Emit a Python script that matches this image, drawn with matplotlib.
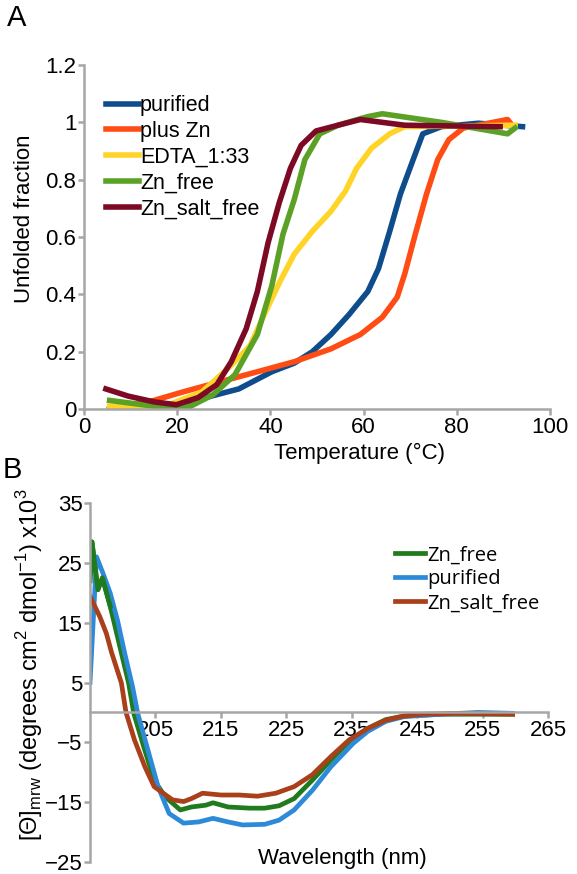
import numpy as np
import matplotlib
matplotlib.use("Agg")
import matplotlib.pyplot as plt

plt.rcParams['font.family'] = ['Liberation Sans', 'DejaVu Sans']

# ---------------- panel A : thermal unfolding ----------------
purified_T = [5.5, 19.8, 26.1, 33.2, 40.3, 45.1, 49.0, 53.0, 56.9, 60.9, 63.2, 65.6, 67.9, 70.4, 72.7, 76.7, 84.6, 94.1]
purified_f = [0.0, 0.01, 0.04, 0.07, 0.13, 0.16, 0.20, 0.26, 0.33, 0.41, 0.49, 0.62, 0.75, 0.86, 0.96, 0.985, 0.997, 0.985]

pluszn_T = [5.5, 15.0, 21.3, 29.2, 37.2, 45.1, 53.0, 59.3, 64.0, 67.2, 68.8, 71.1, 73.5, 75.9, 78.3, 81.4, 90.9, 92.1]
pluszn_f = [0.0, 0.03, 0.06, 0.095, 0.13, 0.165, 0.21, 0.26, 0.32, 0.39, 0.47, 0.61, 0.75, 0.87, 0.94, 0.98, 1.01, 0.985]

edta_T = [5.5, 17.4, 25.3, 30.8, 35.6, 38.7, 41.9, 45.1, 49.0, 53.0, 56.1, 58.5, 61.7, 65.6, 68.8, 92.5]
edta_f = [0.01, 0.01, 0.06, 0.14, 0.22, 0.33, 0.44, 0.54, 0.62, 0.69, 0.76, 0.84, 0.91, 0.96, 0.985, 0.99]

znfree_T = [5.5, 17.4, 22.9, 27.7, 32.4, 37.2, 40.3, 42.7, 45.1, 47.4, 50.6, 54.5, 60.9, 64.0, 76.7, 90.9, 92.5]
znfree_f = [0.03, 0.005, 0.01, 0.05, 0.12, 0.26, 0.43, 0.61, 0.73, 0.87, 0.96, 0.99, 1.02, 1.03, 1.0, 0.96, 0.98]

saltfree_T = [4.7, 9.5, 15.0, 19.8, 24.5, 28.5, 31.6, 34.8, 37.2, 39.5, 41.9, 44.3, 46.6, 49.8, 54.5, 59.3, 68.8, 89.3]
saltfree_f = [0.07, 0.045, 0.025, 0.015, 0.04, 0.085, 0.165, 0.28, 0.41, 0.58, 0.72, 0.84, 0.92, 0.97, 0.99, 1.01, 0.99, 0.985]

# ---------------- panel B : CD spectra ----------------
b_green_wl = [195.0, 195.3, 196.2, 196.9, 198.1, 199.8, 200.9, 201.7, 203.2, 204.8, 206.5, 208.8, 210.5, 212.7, 213.8,
              216.1, 219.4, 221.7, 223.9, 226.2, 229.0, 231.8, 234.6, 237.4, 240.2, 243.0, 248.7, 259.6]
b_green_y = [22.0, 28.5, 20.5, 22.5, 17.7, 9.9, 4.9, -0.2, -5.7, -11.3, -14.1, -16.3, -15.8, -15.5, -15.1,
             -15.8, -16.0, -16.0, -15.6, -14.4, -11.3, -8.0, -4.9, -2.7, -1.2, -0.6, -0.3, -0.3]

b_blue_wl = [195.0, 196.0, 197.0, 198.1, 199.2, 200.3, 201.5, 202.3, 203.7, 205.4, 207.1, 209.3, 211.6, 213.8,
             216.1, 218.3, 221.7, 223.9, 226.2, 229.0, 231.8, 235.2, 237.4, 240.2, 243.0, 248.7, 254.3, 259.6]
b_blue_y = [5.0, 26.0, 23.2, 19.9, 15.4, 9.9, 4.3, -0.2, -5.7, -12.4, -16.9, -18.5, -18.3, -17.7,
            -18.3, -18.8, -18.7, -18.0, -16.3, -13.0, -9.1, -5.2, -3.2, -1.5, -0.7, -0.3, 0.0, -0.15]

b_red_wl = [195.0, 196.5, 197.5, 198.3, 199.8, 200.5, 201.8, 203.4, 204.8, 207.6, 209.3, 210.5, 212.2, 215.0, 217.8, 220.6,
            223.4, 226.2, 229.0, 231.8, 234.6, 237.4, 240.2, 243.0, 245.9, 251.5, 259.6]
b_red_y = [19.4, 16.0, 13.2, 10.0, 4.9, 0.0, -4.6, -9.1, -12.4, -14.6, -14.9, -14.4, -13.5, -13.8, -13.8, -14.0,
           -13.5, -12.4, -10.4, -7.4, -4.6, -2.7, -1.3, -0.6, -0.3, -0.15, -0.3]

GRAY = '#a6a6a6'

fig = plt.figure(figsize=(5.77, 8.74), dpi=100)

# ---- panel A ----
axA = fig.add_axes([0.1456, 0.532, 0.8076, 0.3936])
lw = 4.0
axA.plot(purified_T, purified_f, color='#0f4c8c', lw=lw, label='purified')
axA.plot(pluszn_T, pluszn_f, color='#ff4b14', lw=lw, label='plus Zn')
axA.plot(edta_T, edta_f, color='#ffd427', lw=lw, label='EDTA_1:33')
axA.plot(znfree_T, znfree_f, color='#5aa126', lw=lw, label='Zn_free')
axA.plot(saltfree_T, saltfree_f, color='#7d0a24', lw=lw, label='Zn_salt_free')
axA.set_xlim(0, 100)
axA.set_ylim(0, 1.2)
axA.set_xticks([0, 20, 40, 60, 80, 100])
axA.set_yticks([0, 0.2, 0.4, 0.6, 0.8, 1.0, 1.2])
axA.set_yticklabels(['0', '0.2', '0.4', '0.6', '0.8', '1', '1.2'])
for s in ['top', 'right']:
    axA.spines[s].set_visible(False)
for s in ['left', 'bottom']:
    axA.spines[s].set_color(GRAY)
    axA.spines[s].set_linewidth(1.8)
axA.tick_params(colors=GRAY, labelcolor='black', labelsize=16, length=4, width=1.8, pad=1.5)
axA.set_ylabel('Unfolded fraction', fontsize=16)
axA.yaxis.set_label_coords(-0.105, 0.552)
axA.set_xlabel('Temperature (°C)', fontsize=16)
axA.xaxis.set_label_coords(0.592, -0.097)
axA.legend(loc='upper left', bbox_to_anchor=(0.183, 0.891), bbox_transform=fig.transFigure,
           frameon=False, fontsize=15.5, handlelength=1.55, handletextpad=0.05,
           labelspacing=0.22, borderpad=0, borderaxespad=0)
fig.text(0.012, 0.995, 'A', fontsize=21, va='top', ha='left')

# ---- panel B ----
axB = fig.add_axes([0.156, 0.0137, 0.7937, 0.4108])
lwb = 3.4
axB.plot(b_green_wl, b_green_y, color='#207a1e', lw=lwb, label='Zn_free')
axB.plot(b_blue_wl, b_blue_y, color='#2d8ad8', lw=lwb, label='purified')
axB.plot(b_red_wl, b_red_y, color='#a9401a', lw=lwb, label='Zn_salt_free')
# green drawn on top near the start peak
axB.plot(b_green_wl[:5], b_green_y[:5], color='#207a1e', lw=lwb)
axB.set_xlim(195, 265)
axB.set_ylim(-25, 35)
axB.set_xticks([205, 215, 225, 235, 245, 255, 265])
axB.set_yticks([35, 25, 15, 5, -5, -15, -25])
for s in ['top', 'right']:
    axB.spines[s].set_visible(False)
for s in ['left', 'bottom']:
    axB.spines[s].set_color(GRAY)
    axB.spines[s].set_linewidth(1.8)
axB.spines['bottom'].set_position(('data', 0))
axB.tick_params(colors=GRAY, labelcolor='black', labelsize=16, length=4, width=1.8, pad=1.5)
axB.set_ylabel('[Θ]$_{\\mathregular{mrw}}$ (degrees cm$^{\\mathregular{2}}$ dmol$^{\\mathregular{-1}}$) x10$^{\\mathregular{3}}$',
               fontsize=17)
axB.yaxis.set_label_coords(-0.098, 0.549)
axB.text(0.55, -0.02, 'Wavelength (nm)', transform=axB.transAxes, ha='center', va='bottom', fontsize=16)
axB.legend(loc='upper left', bbox_to_anchor=(0.685, 0.376), bbox_transform=fig.transFigure,
           frameon=False, prop={'family': 'Open Sans', 'size': 14.5}, handlelength=1.5,
           handletextpad=0.1, labelspacing=0.2, borderpad=0, borderaxespad=0)
fig.text(0.005, 0.478, 'B', fontsize=21, va='top', ha='left')

fig.savefig('out.png', dpi=100)
